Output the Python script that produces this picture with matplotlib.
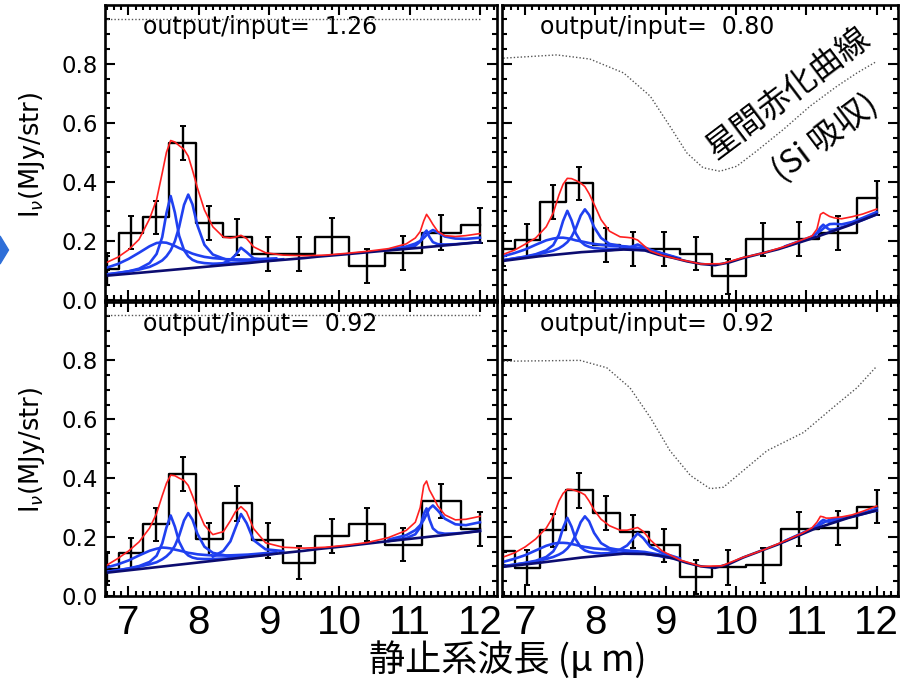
import matplotlib
matplotlib.use("Agg")
import matplotlib.pyplot as plt
from matplotlib.ticker import MultipleLocator, FixedLocator
from matplotlib.patches import Polygon

# binned spectrum (bin centres, micron)
x_pts = [6.69, 7.03, 7.39, 7.77, 8.15, 8.54, 8.98, 9.43, 9.89, 10.39, 10.90, 11.45, 12.00]

hist_tl = [0.105, 0.228, 0.280, 0.532, 0.261, 0.212, 0.157, 0.155, 0.215, 0.115, 0.160, 0.228, 0.253]
err_tl = [0.053, 0.056, 0.056, 0.057, 0.058, 0.061, 0.058, 0.058, 0.061, 0.059, 0.058, 0.060, 0.059]
hist_tr = [0.172, 0.203, 0.332, 0.395, 0.185, 0.172, 0.172, 0.157, 0.080, 0.205, 0.206, 0.228, 0.346]
err_tr = [0.056, 0.056, 0.057, 0.057, 0.058, 0.057, 0.057, 0.057, 0.058, 0.056, 0.057, 0.058, 0.057]
hist_bl = [0.090, 0.144, 0.243, 0.414, 0.193, 0.314, 0.189, 0.112, 0.204, 0.243, 0.173, 0.322, 0.227]
err_bl = [0.055, 0.053, 0.056, 0.059, 0.055, 0.059, 0.059, 0.056, 0.058, 0.056, 0.056, 0.058, 0.058]
hist_br = [0.153, 0.096, 0.223, 0.358, 0.280, 0.218, 0.172, 0.065, 0.097, 0.104, 0.226, 0.229, 0.303]
err_br = [0.048, 0.059, 0.056, 0.058, 0.058, 0.056, 0.056, 0.058, 0.059, 0.060, 0.058, 0.058, 0.056]

# continuum
wc = [6.67, 7.2, 7.8, 8.4, 8.7, 8.9, 9.1, 9.3, 9.5, 9.7, 9.9, 10.1, 10.6, 11.1, 11.6, 12.0]
cont_tl = [0.082, 0.093, 0.106, 0.119, 0.125, 0.130, 0.134, 0.138, 0.142, 0.147, 0.151, 0.155, 0.166, 0.176, 0.187, 0.196]
cont_tr = [0.132, 0.148, 0.162, 0.171, 0.168, 0.153, 0.143, 0.131, 0.122, 0.118, 0.127, 0.142, 0.172, 0.210, 0.252, 0.290]
cont_bl = [0.078, 0.092, 0.108, 0.124, 0.132, 0.137, 0.143, 0.148, 0.153, 0.159, 0.164, 0.169, 0.183, 0.196, 0.209, 0.220]
cont_br = [0.098, 0.112, 0.130, 0.143, 0.142, 0.137, 0.127, 0.112, 0.100, 0.095, 0.108, 0.130, 0.175, 0.226, 0.265, 0.290]

# 7.4 / 7.6 / 7.85 micron components
wA = [6.67, 6.85, 7.0, 7.15, 7.3, 7.4, 7.48, 7.54, 7.6, 7.66, 7.72, 7.79, 7.85, 7.91, 7.98, 8.08, 8.2, 8.4, 8.7, 9.1]
broad_tl = [0.108, 0.122, 0.139, 0.160, 0.182, 0.193, 0.195, 0.194, 0.189, 0.183, 0.176, 0.169, 0.163, 0.157, 0.152, 0.146, 0.142, 0.138, 0.137, 0.141]
f760_tl = [0.086, 0.091, 0.097, 0.106, 0.125, 0.156, 0.213, 0.294, 0.352, 0.296, 0.218, 0.169, 0.148, 0.136, 0.129, 0.125, 0.123, 0.124, 0.128, 0.136]
f785_tl = [0.086, 0.092, 0.097, 0.103, 0.112, 0.123, 0.134, 0.148, 0.168, 0.199, 0.247, 0.322, 0.357, 0.324, 0.253, 0.187, 0.154, 0.136, 0.133, 0.138]
broad_tr = [0.147, 0.159, 0.171, 0.187, 0.202, 0.208, 0.211, 0.211, 0.209, 0.206, 0.202, 0.199, 0.196, 0.193, 0.190, 0.187, 0.184, 0.182, 0.175, 0.146]
f760_tr = [0.134, 0.141, 0.147, 0.155, 0.168, 0.186, 0.221, 0.268, 0.302, 0.270, 0.226, 0.198, 0.186, 0.180, 0.176, 0.174, 0.173, 0.174, 0.169, 0.145]
f785_tr = [0.134, 0.141, 0.146, 0.153, 0.161, 0.167, 0.175, 0.184, 0.196, 0.214, 0.242, 0.286, 0.307, 0.288, 0.247, 0.210, 0.190, 0.181, 0.172, 0.146]
broad_bl = [0.095, 0.107, 0.120, 0.137, 0.153, 0.160, 0.164, 0.163, 0.161, 0.157, 0.154, 0.150, 0.146, 0.144, 0.141, 0.139, 0.137, 0.137, 0.140, 0.148]
f760_bl = [0.080, 0.087, 0.093, 0.101, 0.115, 0.136, 0.178, 0.232, 0.273, 0.235, 0.184, 0.151, 0.137, 0.130, 0.126, 0.125, 0.125, 0.127, 0.134, 0.144]
f785_bl = [0.081, 0.087, 0.092, 0.099, 0.107, 0.114, 0.124, 0.134, 0.148, 0.170, 0.204, 0.256, 0.281, 0.259, 0.211, 0.167, 0.146, 0.136, 0.137, 0.145]
broad_br = [0.114, 0.126, 0.138, 0.154, 0.170, 0.177, 0.180, 0.180, 0.179, 0.176, 0.173, 0.169, 0.166, 0.164, 0.161, 0.159, 0.157, 0.155, 0.149, 0.132]
f760_br = [0.100, 0.106, 0.112, 0.119, 0.132, 0.151, 0.184, 0.231, 0.265, 0.235, 0.192, 0.165, 0.154, 0.149, 0.146, 0.144, 0.145, 0.146, 0.143, 0.128]
f785_br = [0.100, 0.106, 0.111, 0.117, 0.125, 0.132, 0.140, 0.148, 0.161, 0.179, 0.207, 0.250, 0.270, 0.253, 0.214, 0.179, 0.162, 0.153, 0.146, 0.129]

# 8.6 micron component
wB = [8.2, 8.35, 8.45, 8.52, 8.6, 8.68, 8.78, 8.95, 9.2]
f860_tl = [0.118, 0.125, 0.136, 0.152, 0.177, 0.162, 0.141, 0.135, 0.138]
f860_tr = [0.169, 0.172, 0.176, 0.181, 0.188, 0.180, 0.170, 0.158, 0.141]
f860_bl = [0.133, 0.153, 0.185, 0.229, 0.278, 0.247, 0.189, 0.158, 0.152]
f860_br = [0.146, 0.157, 0.171, 0.190, 0.212, 0.196, 0.166, 0.146, 0.127]

# 11.2 / 11.3 micron components
wC = [10.7, 10.95, 11.08, 11.15, 11.2, 11.24, 11.28, 11.33, 11.4, 11.5, 11.65, 11.8, 12.0]
f1123_tl = [0.169, 0.176, 0.184, 0.198, 0.224, 0.235, 0.214, 0.196, 0.189, 0.188, 0.189, 0.192, 0.196]
f1133_tl = [0.171, 0.181, 0.191, 0.200, 0.210, 0.220, 0.230, 0.237, 0.229, 0.215, 0.208, 0.207, 0.211]
f1123_tr = [0.181, 0.201, 0.213, 0.227, 0.246, 0.255, 0.246, 0.238, 0.239, 0.246, 0.258, 0.271, 0.290]
f1133_tr = [0.182, 0.203, 0.215, 0.226, 0.234, 0.242, 0.250, 0.257, 0.258, 0.256, 0.264, 0.278, 0.298]
f1123_bl = [0.186, 0.196, 0.209, 0.233, 0.278, 0.297, 0.260, 0.229, 0.215, 0.211, 0.212, 0.215, 0.221]
f1133_bl = [0.191, 0.206, 0.223, 0.240, 0.258, 0.277, 0.296, 0.307, 0.290, 0.262, 0.243, 0.240, 0.250]
f1123_br = [0.186, 0.213, 0.228, 0.238, 0.251, 0.258, 0.254, 0.251, 0.254, 0.260, 0.269, 0.278, 0.290]
f1133_br = [0.187, 0.214, 0.228, 0.236, 0.242, 0.248, 0.253, 0.258, 0.262, 0.264, 0.271, 0.281, 0.296]

# total model (red)
wl = [6.67, 6.85, 7.0, 7.15, 7.3, 7.4, 7.48, 7.54, 7.6, 7.66, 7.72, 7.79, 7.85, 7.91, 7.98, 8.08, 8.2,
      8.35, 8.45, 8.52, 8.6, 8.68, 8.78, 8.95, 9.2, 9.5, 9.8, 10.1, 10.4, 10.7, 10.95, 11.08, 11.15,
      11.2, 11.24, 11.28, 11.33, 11.4, 11.5, 11.65, 11.8, 12.0]
red_tl = [0.125, 0.145, 0.170, 0.205, 0.275, 0.340, 0.430, 0.500, 0.540, 0.535, 0.523, 0.510, 0.487, 0.440,
          0.380, 0.305, 0.248, 0.213, 0.210, 0.213, 0.219, 0.208, 0.180, 0.160, 0.152, 0.150, 0.152, 0.158,
          0.165, 0.174, 0.190, 0.210, 0.232, 0.268, 0.290, 0.276, 0.256, 0.232, 0.218, 0.215, 0.218, 0.225]
red_tr = [0.153, 0.169, 0.189, 0.210, 0.248, 0.295, 0.355, 0.392, 0.412, 0.411, 0.405, 0.396, 0.384, 0.360,
          0.325, 0.272, 0.233, 0.214, 0.212, 0.210, 0.203, 0.186, 0.166, 0.151, 0.137, 0.122, 0.123, 0.144,
          0.160, 0.182, 0.205, 0.217, 0.240, 0.290, 0.296, 0.290, 0.283, 0.278, 0.275, 0.282, 0.291, 0.308]
red_bl = [0.101, 0.127, 0.152, 0.183, 0.230, 0.280, 0.340, 0.382, 0.410, 0.408, 0.400, 0.392, 0.375, 0.340,
          0.295, 0.240, 0.208, 0.218, 0.255, 0.285, 0.303, 0.285, 0.228, 0.180, 0.165, 0.162, 0.165, 0.172,
          0.181, 0.198, 0.222, 0.250, 0.300, 0.375, 0.390, 0.360, 0.338, 0.305, 0.275, 0.258, 0.260, 0.270]
red_br = [0.130, 0.146, 0.166, 0.193, 0.230, 0.270, 0.322, 0.348, 0.362, 0.361, 0.357, 0.351, 0.343, 0.322,
          0.292, 0.260, 0.238, 0.223, 0.223, 0.227, 0.232, 0.219, 0.190, 0.152, 0.122, 0.100, 0.102, 0.131,
          0.157, 0.187, 0.214, 0.231, 0.250, 0.270, 0.268, 0.264, 0.264, 0.266, 0.268, 0.275, 0.287, 0.305]

# extinction curves (dotted)
ext_x_flat = [6.69, 12.0]
ext_tl = [0.952, 0.952]
ext_bl = [0.953, 0.953]
ext_x_tr = [6.69, 7.45, 7.92, 8.40, 8.78, 9.06, 9.30, 9.53, 9.77, 10.01, 10.29, 10.67, 11.05, 11.43, 11.72, 12.0]
ext_tr = [0.819, 0.830, 0.816, 0.769, 0.690, 0.588, 0.498, 0.448, 0.436, 0.453, 0.504, 0.577, 0.656, 0.723, 0.769, 0.808]
ext_x_br = [6.69, 7.78, 8.16, 8.49, 8.78, 9.06, 9.35, 9.63, 9.82, 10.10, 10.44, 10.96, 11.38, 11.72, 12.0]
ext_br = [0.797, 0.800, 0.775, 0.707, 0.606, 0.493, 0.409, 0.364, 0.369, 0.425, 0.493, 0.555, 0.640, 0.707, 0.780]

ratios = ["1.26", "0.80", "0.92", "0.92"]

BLUE = "#2040f0"
NAVY = "#0c0c70"
RED = "#ff2020"
narrow = ["Liberation Sans Narrow", "Liberation Sans", "DejaVu Sans"]
cjk = ["Noto Sans CJK JP", "DejaVu Sans"]


def draw_panel(ax, hist, err, cont, red, broad, f760, f785, f860, f1123, f1133,
               ext_x, ext_y, ratio, xlim, bottom, left):
    ax.plot(ext_x, ext_y, color="#555555", lw=1.0, ls=(0, (1, 1.5)))
    ax.step(x_pts, hist, where="mid", color="black", lw=1.7)
    ax.errorbar(x_pts, hist, yerr=err, fmt="none", ecolor="black", elinewidth=1.7,
                capsize=2.2, capthick=1.4)
    for xs, ys in [(wA, broad), (wA, f760), (wA, f785), (wB, f860), (wC, f1123), (wC, f1133)]:
        ax.plot(xs, ys, color=BLUE, lw=1.9)
    ax.plot(wc, cont, color=NAVY, lw=1.9)
    ax.plot(wl, red, color=RED, lw=1.2)

    ax.text(0.097, 0.925, "output/input=  " + ratio, transform=ax.transAxes,
            fontsize=17, ha="left", va="center")

    ax.set_xlim(*xlim)
    ax.set_ylim(0.0, 0.999)
    ax.set_xticks([7, 8, 9, 10, 11, 12], ["7", "8", "9", "10", "11", "12"],
                  fontsize=29, fontfamily=narrow)
    ax.xaxis.set_minor_locator(MultipleLocator(0.1))
    ax.yaxis.set_major_locator(FixedLocator([0.0, 0.2, 0.4, 0.6, 0.8]))
    ax.yaxis.set_minor_locator(MultipleLocator(0.05))
    ax.tick_params(which="both", direction="in", top=True, right=True, width=1.5,
                   labelbottom=bottom, labelleft=left)
    ax.tick_params(which="major", length=7.5)
    ax.tick_params(which="minor", length=3.5)
    ax.tick_params(axis="y", labelsize=16.5, pad=5)
    ax.tick_params(axis="x", pad=6)
    for s in ax.spines.values():
        s.set_linewidth(1.9)


fig = plt.figure(figsize=(9.1, 6.83), dpi=100)
W, H = 910.0, 683.0
ax_tl = fig.add_axes([105 / W, 1 - 300 / H, 392 / W, 295 / H])
ax_tr = fig.add_axes([502 / W, 1 - 300 / H, 396 / W, 295 / H])
ax_bl = fig.add_axes([105 / W, 1 - 595.8 / H, 392 / W, 294 / H])
ax_br = fig.add_axes([502 / W, 1 - 595.8 / H, 396 / W, 294 / H])

xl_left = (6.666, 12.242)
xl_right = (6.671, 12.303)

draw_panel(ax_tl, hist_tl, err_tl, cont_tl, red_tl, broad_tl, f760_tl, f785_tl, f860_tl,
           f1123_tl, f1133_tl, ext_x_flat, ext_tl, ratios[0], xl_left, False, True)
draw_panel(ax_tr, hist_tr, err_tr, cont_tr, red_tr, broad_tr, f760_tr, f785_tr, f860_tr,
           f1123_tr, f1133_tr, ext_x_tr, ext_tr, ratios[1], xl_right, False, False)
draw_panel(ax_bl, hist_bl, err_bl, cont_bl, red_bl, broad_bl, f760_bl, f785_bl, f860_bl,
           f1123_bl, f1133_bl, ext_x_flat, ext_bl, ratios[2], xl_left, True, True)
draw_panel(ax_br, hist_br, err_br, cont_br, red_br, broad_br, f760_br, f785_br, f860_br,
           f1123_br, f1133_br, ext_x_br, ext_br, ratios[3], xl_right, True, False)

# y labels
for yc in (155, 450):
    fig.text(32 / W, 1 - yc / H, r"I$_\nu$(MJy/str)", rotation=90, ha="center",
             va="center", fontsize=18.5)

# x label
fig.text(508 / W, 1 - 660 / H, "静止系波長 (μ m)", ha="center", va="center",
         fontsize=26, family=cjk)

# extinction-curve note
fig.text(788 / W, 1 - 93 / H, "星間赤化曲線", rotation=37, rotation_mode="anchor",
         ha="center", va="center", fontsize=23.5, family=cjk)
fig.text(826 / W, 1 - 138 / H, "(Si 吸収)", rotation=37, rotation_mode="anchor",
         ha="center", va="center", fontsize=23.5, family=cjk)

# arrow tip at the left edge
fig.patches.append(Polygon([[0, 1 - 236 / H], [8.5 / W, 1 - 250 / H], [0, 1 - 264 / H]],
                           closed=True, transform=fig.transFigure, color="#2f6fd8"))

fig.savefig("out.png", dpi=100)
